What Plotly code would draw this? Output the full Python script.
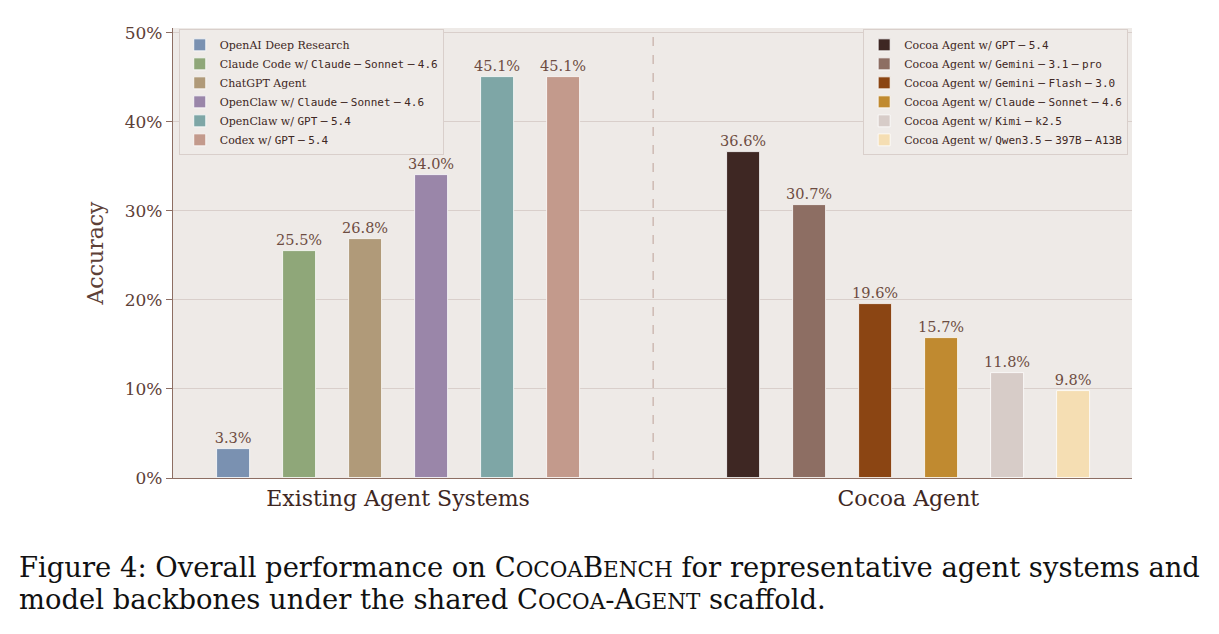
import plotly.graph_objects as go

# ---------------- data ----------------
existing_names = [
    "OpenAI Deep Research",
    "Claude Code w/ <M>Claude−Sonnet−4.6</M>",
    "ChatGPT Agent",
    "OpenClaw w/ <M>Claude−Sonnet−4.6</M>",
    "OpenClaw w/ <M>GPT−5.4</M>",
    "Codex w/ <M>GPT−5.4</M>",
]
existing_vals = [3.3, 25.5, 26.8, 34.0, 45.1, 45.1]
existing_colors = ["#7a91b1", "#8fa779", "#b09a79", "#9a86a9", "#7ea6a6", "#c39a8c"]

cocoa_names = [
    "Cocoa Agent w/ <M>GPT−5.4</M>",
    "Cocoa Agent w/ <M>Gemini−3.1−pro</M>",
    "Cocoa Agent w/ <M>Gemini−Flash−3.0</M>",
    "Cocoa Agent w/ <M>Claude−Sonnet−4.6</M>",
    "Cocoa Agent w/ <M>Kimi−k2.5</M>",
    "Cocoa Agent w/ <M>Qwen3.5−397B−A13B</M>",
]
cocoa_vals = [36.6, 30.7, 19.6, 15.7, 11.8, 9.8]
cocoa_colors = ["#3e2723", "#8d6e63", "#8b4513", "#c08a30", "#d7ccc8", "#f5deb3"]

group_labels = ["Existing Agent Systems", "Cocoa Agent"]
y_ticks = [0, 10, 20, 30, 40, 50]
y_tick_labels = ["0%", "10%", "20%", "30%", "40%", "50%"]

GROUP2_OFFSET = 7.73
BAR_W = 0.5

SERIF = "DejaVu Serif"
MONO = "DejaVu Sans Mono"


def fmt(name):
    ms = f"<span style='font-family:{MONO}'>"
    out = name.replace("<M>", ms).replace("</M>", "</span>")
    out = out.replace("−", "</span>\u2009−\u2009" + ms)
    return out


fig = go.Figure()

x1 = [float(i) for i in range(len(existing_vals))]
x2 = [i + GROUP2_OFFSET for i in range(len(cocoa_vals))]

label_font = dict(family=SERIF, size=14.5, color="#6d4c41")

for i, (n, v, c) in enumerate(zip(existing_names, existing_vals, existing_colors)):
    fig.add_trace(go.Bar(
        x=[x1[i]], y=[v], name=fmt(n), width=BAR_W,
        marker=dict(color=c, line=dict(color="white", width=0.8)),
        text=[f"{v:.1f}%"], textposition="outside", cliponaxis=False,
        constraintext="none", textfont=label_font,
        legend="legend",
    ))

for i, (n, v, c) in enumerate(zip(cocoa_names, cocoa_vals, cocoa_colors)):
    fig.add_trace(go.Bar(
        x=[x2[i]], y=[v], name=fmt(n), width=BAR_W,
        marker=dict(color=c, line=dict(color="white", width=0.8)),
        text=[f"{v:.1f}%"], textposition="outside", cliponaxis=False,
        constraintext="none", textfont=label_font,
        legend="legend2",
    ))

divider_x = (x1[-1] + x2[0]) / 2
fig.add_shape(type="line", xref="x", yref="paper", x0=divider_x, x1=divider_x, y0=0, y1=1,
              line=dict(color="#c9b3ab", width=1.3, dash="dash"), layer="below")

group_centers = [(x1[0] + x1[-1]) / 2, (x2[0] + x2[-1]) / 2]

legend_common = dict(
    bgcolor="#efebe8", bordercolor="#d9cfcb", borderwidth=1,
    font=dict(family=SERIF, size=11, color="#3e2723"),
    yanchor="top", y=0.997, traceorder="normal",
)

SC = "<span style='font-size:21.5px'>"
caption1 = (f"Figure 4: Overall performance on C{SC}OCOA</span>"
            f"B{SC}ENCH</span> for representative agent systems and")
caption2 = (f"model backbones under the shared C{SC}OCOA</span>-"
            f"A{SC}GENT</span> scaffold.")
cap_x = (17 - 173) / 959

fig.update_layout(
    width=1219, height=634,
    margin=dict(l=173, r=87, t=28, b=156),
    paper_bgcolor="white",
    plot_bgcolor="#eeeae7",
    barmode="overlay",
    bargap=0,
    showlegend=True,
    legend=dict(**legend_common, x=0.006, xanchor="left"),
    legend2=dict(**legend_common, x=0.996, xanchor="right"),
    xaxis=dict(
        range=[-0.91, 13.62],
        tickvals=group_centers, ticktext=group_labels,
        tickfont=dict(family=SERIF, size=22, color="#3e2723"),
        showgrid=False, zeroline=False, ticks="",
        showline=True, linecolor="#8d6e63", linewidth=1.3,
    ),
    yaxis=dict(
        range=[0, 50.55],
        tickvals=y_ticks, ticktext=y_tick_labels,
        tickfont=dict(family=SERIF, size=17, color="#5d4037"),
        ticks="outside", ticklen=6, tickcolor="#8d6e63", tickwidth=1.2,
        showgrid=True, gridcolor="#d9cfcb", gridwidth=1,
        zeroline=False,
        showline=True, linecolor="#8d6e63", linewidth=1.3,
        title=dict(text="Accuracy", font=dict(family=SERIF, size=22, color="#5d4037"), standoff=14),
    ),
    annotations=[
        dict(text=caption1, xref="paper", yref="paper", x=cap_x, y=-0.198,
             xanchor="left", yanchor="middle", showarrow=False,
             font=dict(family=SERIF, size=27.4, color="#111111")),
        dict(text=caption2, xref="paper", yref="paper", x=cap_x, y=-0.270,
             xanchor="left", yanchor="middle", showarrow=False,
             font=dict(family=SERIF, size=27.4, color="#111111")),
    ],
)

fig.write_html("out.html")
